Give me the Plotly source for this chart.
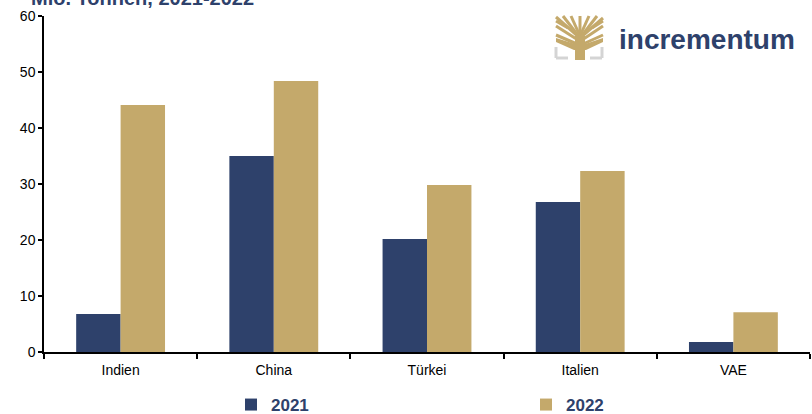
import plotly.graph_objects as go

# data
laender = ["Indien", "China", "Türkei", "Italien", "VAE"]
werte_2021 = [6.8, 35.0, 20.2, 26.8, 1.8]
werte_2022 = [44.1, 48.4, 29.8, 32.3, 7.1]

NAVY = "#2e416b"
GOLD = "#c4a96b"
GREY = "#d4d4d4"

W, H = 812, 414
L, R, T, B = 44, 2, 16, 62


def px(x, y):
    """pixel position -> paper coordinates"""
    return (x - L) / (W - L - R), (H - B - y) / (H - T - B)


fig = go.Figure()
fig.add_trace(go.Bar(x=laender, y=werte_2021, name="<b>2021</b>", marker=dict(color=NAVY, line=dict(width=0))))
fig.add_trace(go.Bar(x=laender, y=werte_2022, name="<b>2022</b>", marker=dict(color=GOLD, line=dict(width=0))))

fig.update_layout(
    width=W, height=H,
    margin=dict(l=L, r=R, t=T, b=B, autoexpand=False),
    plot_bgcolor="white", paper_bgcolor="white",
    font=dict(family="Liberation Sans, Arial", size=14, color="black"),
    barmode="group", bargap=0.42, bargroupgap=0,
    xaxis=dict(showline=True, linecolor="black", linewidth=1.5, ticks="outside",
               tickson="boundaries", ticklen=5, tickwidth=1.5, tickcolor="black",
               ticklabelstandoff=4,
               showgrid=False, tickfont=dict(size=14), automargin=False),
    yaxis=dict(range=[0, 60], dtick=10, showline=True, linecolor="black", linewidth=1.5,
               ticks="outside", ticklen=4, tickwidth=1.5, tickcolor="black",
               showgrid=False, zeroline=False, tickfont=dict(size=14), automargin=False),
    legend=dict(orientation="h", x=px(231, 0)[0], y=px(0, 405)[1], xanchor="left", yanchor="middle",
                entrywidth=250, entrywidthmode="pixels", bgcolor="rgba(0,0,0,0)",
                font=dict(size=17, color=NAVY, family="Liberation Sans, Arial"),
                itemwidth=30, traceorder="normal"),
)

# cut-off title at the top
x0, y0 = px(30, 10)
fig.add_annotation(text="<b>Mio. Tonnen, 2021-2022</b>", xref="paper", yref="paper",
                   x=x0, y=y0, xanchor="left", yanchor="bottom", showarrow=False,
                   font=dict(size=20, color=NAVY), borderpad=0)

# logo text
x1, y1 = px(617, 40)
fig.add_annotation(text="<b>incrementum</b>", xref="paper", yref="paper",
                   x=x1, y=y1, xanchor="left", yanchor="middle", showarrow=False,
                   font=dict(size=28, color=NAVY, family="Liberation Sans, Arial"))


# logo tree
def line(xa, ya, xb, yb, color, width):
    a = px(xa, ya)
    b = px(xb, yb)
    fig.add_shape(type="line", xref="paper", yref="paper", x0=a[0], y0=a[1], x1=b[0], y1=b[1],
                  line=dict(color=color, width=width))


def poly(points, color):
    path = "M " + " L ".join(f"{px(x, y)[0]} {px(x, y)[1]}" for x, y in points) + " Z"
    fig.add_shape(type="path", xref="paper", yref="paper", path=path,
                  fillcolor=color, line=dict(width=0))


for (xs, ys, xe, ye) in [(580, 38, 556, 17), (580, 38, 563, 16), (580, 36, 571, 16), (580, 36, 580, 16),
                         (580, 36, 589, 16), (580, 38, 597, 16), (580, 38, 603, 18),
                         (578, 40, 556, 26), (582, 40, 603, 26), (577, 44, 556, 35), (583, 44, 603, 35),
                         (568, 28, 556, 21), (592, 28, 603, 21)]:
    line(xs, ys, xe, ye, GOLD, 3)
poly([(556, 38), (575, 44), (575, 60), (585, 60), (585, 44), (603, 38), (603, 42), (586, 50),
      (574, 50), (556, 42)], GOLD)
poly([(575, 36), (585, 36), (585, 60), (575, 60)], GOLD)
line(556, 47, 556, 58, GREY, 3)
line(556, 58, 568, 58, GREY, 3)
line(590, 58, 602, 58, GREY, 3)
line(602, 58, 602, 47, GREY, 3)

# the page has a default body margin; drop it so the chart sits at 0,0
fig.write_html("out.html", config={"displayModeBar": False},
               post_script="document.body.style.margin='0';")
